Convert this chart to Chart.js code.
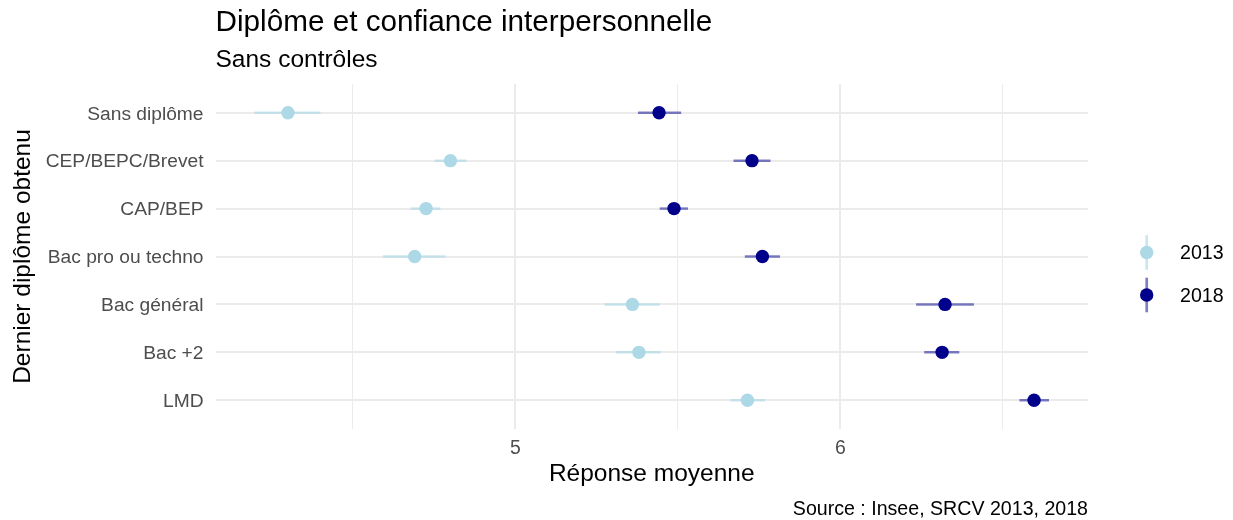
<!DOCTYPE html>
<html>
<head>
<meta charset="utf-8">
<script src="https://cdn.jsdelivr.net/npm/chart.js@4.4.1/dist/chart.umd.min.js"></script>
<style>
  html, body { margin: 0; padding: 0; background: #fff; }
  #wrap { width: 1233px; height: 520px; }
</style>
</head>
<body>
<div id="wrap"><canvas id="chart"></canvas></div>
<script>
// Diplômes (du haut vers le bas)
const categories = ['Sans diplôme', 'CEP/BEPC/Brevet', 'CAP/BEP', 'Bac pro ou techno', 'Bac général', 'Bac +2', 'LMD'];

// 2013 : moyenne et intervalle
const mean2013 = [4.30, 4.80, 4.725, 4.69, 5.36, 5.38, 5.714];
const low2013  = [4.197, 4.751, 4.678, 4.592, 5.275, 5.309, 5.662];
const high2013 = [4.400, 4.849, 4.769, 4.785, 5.444, 5.447, 5.768];

// 2018 : moyenne et intervalle
const mean2018 = [5.442, 5.728, 5.488, 5.760, 6.322, 6.313, 6.596];
const low2018  = [5.377, 5.671, 5.444, 5.706, 6.233, 6.258, 6.551];
const high2018 = [5.510, 5.785, 5.531, 5.814, 6.411, 6.366, 6.642];

const xTicks = [4.5, 5, 5.5, 6, 6.5];

const FONT = "'Liberation Sans', Arial, Helvetica, sans-serif";
const col2013 = '#ADD8E6';
const col2018 = '#00008B';
const bar2013 = 'rgba(173, 216, 230, 0.65)';
const bar2018 = 'rgba(0, 0, 139, 0.5)';

function toPoints(values) {
    return values.map((v, i) => ({ x: v, y: i + 1 }));
}

// horizontal error bars, drawn under the points
const errorBars = {
    id: 'errorBars',
    beforeDatasetsDraw(chart) {
        const { ctx, scales: { x, y } } = chart;
        const sets = [[low2013, high2013, bar2013], [low2018, high2018, bar2018]];
        ctx.save();
        ctx.lineWidth = 2.5;
        sets.forEach(([lo, hi, color]) => {
            ctx.strokeStyle = color;
            lo.forEach((v, i) => {
                const py = y.getPixelForValue(i + 1);
                ctx.beginPath();
                ctx.moveTo(x.getPixelForValue(v), py);
                ctx.lineTo(x.getPixelForValue(hi[i]), py);
                ctx.stroke();
            });
        });
        ctx.restore();
    }
};

// titles, caption and legend
const decorations = {
    id: 'decorations',
    afterDraw(chart) {
        const { ctx, chartArea } = chart;
        ctx.save();
        ctx.fillStyle = '#000';
        ctx.textBaseline = 'alphabetic';
        ctx.textAlign = 'left';
        ctx.font = '29.7px ' + FONT;
        ctx.fillText('Diplôme et confiance interpersonnelle', chartArea.left, 30.5);
        ctx.font = '24.5px ' + FONT;
        ctx.fillText('Sans contrôles', chartArea.left, 67);

        ctx.textAlign = 'right';
        ctx.font = '19.6px ' + FONT;
        ctx.fillText('Source : Insee, SRCV 2013, 2018', chartArea.right, 515);

        // legend
        const items = [['2013', col2013, bar2013, 252.5], ['2018', col2018, bar2018, 295]];
        items.forEach(([label, pc, lc, cy]) => {
            const cx = 1146.7;
            ctx.strokeStyle = lc;
            ctx.lineWidth = 2.7;
            ctx.beginPath();
            ctx.moveTo(cx, cy - 17.3);
            ctx.lineTo(cx, cy + 17.3);
            ctx.stroke();
            ctx.fillStyle = pc;
            ctx.beginPath();
            ctx.arc(cx, cy, 6.7, 0, Math.PI * 2);
            ctx.fill();
            ctx.fillStyle = '#000';
            ctx.textAlign = 'left';
            ctx.textBaseline = 'middle';
            ctx.font = '19.6px ' + FONT;
            ctx.fillText(label, 1180, cy + 1.5);
        });
        ctx.restore();
    }
};

new Chart(document.getElementById('chart'), {
    type: 'scatter',
    data: {
        datasets: [{
            label: '2013',
            data: toPoints(mean2013),
            backgroundColor: col2013,
            borderWidth: 0,
            pointRadius: 6.7,
            pointHoverRadius: 6.7
        }, {
            label: '2018',
            data: toPoints(mean2018),
            backgroundColor: col2018,
            borderWidth: 0,
            pointRadius: 6.7,
            pointHoverRadius: 6.7
        }]
    },
    options: {
        responsive: true,
        maintainAspectRatio: false,
        animation: false,
        layout: {
            padding: { left: 0, top: 84, right: 145, bottom: 31.3 }
        },
        plugins: {
            legend: { display: false },
            tooltip: { enabled: false }
        },
        scales: {
            x: {
                type: 'linear',
                min: 4.077,
                max: 6.762,
                afterBuildTicks: (scale) => {
                    scale.ticks = xTicks.map(v => ({ value: v }));
                },
                afterFit: (scale) => { scale.height = 59.7; },
                border: { display: false },
                grid: {
                    color: '#EBEBEB',
                    lineWidth: (c) => (Number.isInteger(c.tick.value) ? 2 : 1),
                    drawTicks: false
                },
                ticks: {
                    padding: 8,
                    color: '#4D4D4D',
                    font: { family: FONT, size: 19.4 },
                    callback: (v) => (Number.isInteger(v) ? String(v) : '')
                },
                title: {
                    display: true,
                    text: 'Réponse moyenne',
                    color: '#000',
                    font: { family: FONT, size: 24.5 },
                    padding: 0
                }
            },
            y: {
                type: 'linear',
                reverse: true,
                min: 0.4,
                max: 7.6,
                afterBuildTicks: (scale) => {
                    scale.ticks = categories.map((c, i) => ({ value: i + 1 }));
                },
                afterFit: (scale) => { scale.width = 215.5; },
                border: { display: false },
                grid: {
                    color: '#EBEBEB',
                    lineWidth: 2,
                    drawTicks: false
                },
                ticks: {
                    padding: 12,
                    labelOffset: 1.5,
                    color: '#4D4D4D',
                    font: { family: FONT, size: 19.2 },
                    callback: (v) => categories[v - 1] || ''
                },
                title: {
                    display: true,
                    text: 'Dernier diplôme obtenu',
                    color: '#000',
                    font: { family: FONT, size: 24.5 },
                    padding: { top: 9, bottom: 0 }
                }
            }
        }
    },
    plugins: [errorBars, decorations]
});
</script>
</body>
</html>
